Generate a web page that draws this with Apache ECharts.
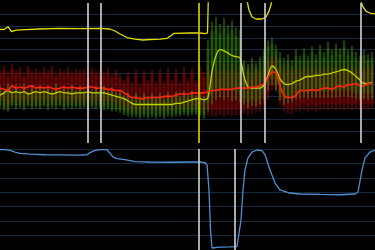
<!DOCTYPE html>
<html>
<head>
<meta charset="utf-8">
<script src="https://cdn.jsdelivr.net/npm/echarts@6/dist/echarts.min.js"></script>
<style>
html,body{margin:0;padding:0;background:#000;}
#c{width:375px;height:250px;}
</style>
</head>
<body>
<div id="c"></div>
<script>
// sample times for the banded series
const sampleT = [
  0,4,8,12,16,20,24,28,32,36,
  40,44,48,52,56,60,64,68,72,76,
  80,84,88,92,96,100,104,108,112,116,
  120,124,128,132,136,140,144,148,152,156,
  160,164,168,172,176,180,184,188,192,196,
  200,204,208,212,216,220,224,228,232,236,
  240,244,248,252,256,260,264,268,272,276,
  280,284,288,292,296,300,304,308,312,316,
  320,324,328,332,336,340,344,348,352,356,
  360,364,368,372
];
// red channel: upper, lower, mean
const redHi = [
  63,66,61,68,63,65,60,66,62,64,
  61,65,63,66,60,64,62,65,61,63,
  63,64,60,65,62,63,61,64,59,63,
  59,54,61,52,63,51,62,54,63,52,
  63,53,64,54,63,52,65,55,64,54,
  66,61,67,63,68,62,67,63,68,63,
  66,61,66,62,67,63,69,73,75,75,
  69,64,68,63,69,63,69,64,69,64,
  69,64,70,65,69,64,70,66,69,65,
  69,66,71,68
];
const redLo = [
  33,32,28,34,32,33,33,34,32,33,
  33,34,32,33,33,34,32,33,33,33,
  33,33,32,33,33,33,32,33,32,31,
  30,28,27,27,27,26,26,27,27,27,
  27,27,27,27,28,28,27,28,28,28,
  27,25,24,23,23,24,23,24,23,24,
  24,25,24,25,26,27,28,37,45,44,
  32,27,25,25,27,27,28,27,28,27,
  28,29,28,29,28,29,28,29,28,29,
  28,29,28,29
];
const redMid = [
  47,46,45,49,47,48,47,48,49,47,
  48,47,48,47,46,47,48,47,48,47,
  47,47,48,48,47,47,47,46,46,45,
  45,43,41,39,39,38,38,39,39,39,
  39,40,40,40,41,42,42,42,43,43,
  43,43,44,45,45,46,46,46,46,47,
  47,47,47,48,48,49,51,56,61,60,
  49,41,39,39,41,45,45,45,46,45,
  46,47,47,46,48,49,48,50,50,51,
  49,49,51,51
];
// green channel: upper, lower, mean
const greenHi = [
  49,45,51,45,50,45,51,44,49,45,
  50,45,49,45,51,45,49,45,50,45,
  49,45,50,45,49,45,49,45,48,44,
  45,41,44,39,43,39,43,39,43,39,
  43,39,44,40,44,40,45,41,45,41,
  44,40,88,104,108,102,107,101,105,99,
  97,71,68,73,69,74,80,88,90,84,
  78,73,76,71,80,75,81,75,83,76,
  84,78,87,80,85,81,88,80,83,78,
  75,80,76,78
];
const greenLo = [
  30,28,27,31,29,30,28,31,29,30,
  29,31,28,30,29,31,28,30,29,30,
  29,30,28,30,29,30,28,29,27,27,
  26,24,23,22,22,21,22,21,22,21,
  22,21,23,22,23,23,24,23,24,24,
  23,21,27,33,37,39,37,39,36,37,
  35,33,30,32,31,33,37,45,50,45,
  37,33,34,35,37,38,39,38,39,39,
  39,39,39,39,39,39,40,39,39,38,
  37,38,37,38
];
const greenMid = [
  41,43,45,43,44,43,44,42,43,44,
  43,44,43,42,43,44,43,43,42,43,
  43,43,44,43,43,43,43,42,41,40,
  39,38,36,34,33,33,33,33,33,33,
  33,33,33,33,34,34,35,36,37,38,
  38,37,39,61,75,80,79,77,75,74,
  73,57,48,47,47,47,50,58,66,63,
  55,51,50,51,53,54,56,57,57,58,
  58,59,59,60,61,62,63,62,60,57,
  54,51,51,52
];
// yellow trace (time, value)
const yellowT = [0,4,8,11.5,15,20,40,60,80,100,110,115,120,127,135,143,150,160,167,171,174,190,200,205,207.5,208.5,246,247.5,249,252,256,262,266,269,271.5,273,360,361.5,363,366,370,375];
const yellowV = [97.4,97.3,99.7,95.4,96.6,96.9,97.7,98.3,98.1,98.3,97.7,96,93.4,90.4,89.1,88.3,88.7,89.1,89.7,92,94,94.3,94.3,93.8,94.3,130,130,120,114,108,106.3,106.3,108,113,120,130,130,120,116.6,113,111.4,110.6];
// blue trace (time, value)
const blueT = [0,5,10,15,20,30,45,60,80,87,90,95,100,107,110,113,117,125,135,150,170,190,200,205,207,209,210.5,212,220,230,237,239,241,243,245,248,252,257,262,265,270,275,280,290,300,320,340,355,358,362,365,370,375];
const blueV = [69.6,69.5,69,67.9,67,66.4,66,65.9,65.8,66,67.5,69,69.5,69.5,67,64.5,63.3,62.7,61.3,61,60.8,61,61,60.5,59,41.6,13.9,1.4,2,2.1,2.3,3.5,20.8,41.6,55.4,63.8,67.9,69.3,68.8,66,55.4,46.4,41.6,39.5,38.8,38.5,38.3,38.8,40.2,55.4,63.8,67.9,69.3];
// event markers
const topEventX = [88, 101, 241, 265, 361];
const alarmX = [199];
const bottomEventX = [199, 235];

const chart = echarts.init(document.getElementById('c'), null, {renderer:'canvas'});

function band(fillBand, fillStripe){
  return function(params, api){
    const x = api.value(0);
    const top = api.coord([x, api.value(2)]);
    const bot = api.coord([x, api.value(1)]);
    const w = api.size([4, 0])[0];
    const h = bot[1] - top[1];
    return {type:'group', children:[
      {type:'rect', shape:{x: top[0]-w/2, y: top[1] + h*0.12, width: w, height: h*0.76}, style:{fill: fillBand}},
      {type:'rect', shape:{x: top[0]-0.6, y: top[1], width: 1.2, height: h}, style:{fill: fillStripe}}
    ]};
  };
}

const redBand = sampleT.map((t,i)=>[t, redLo[i], redHi[i]]);
const greenBand = sampleT.map((t,i)=>[t, greenLo[i], greenHi[i]]);
const pairs = (a,b)=>a.map((t,i)=>[t,b[i]]);

const gridLine = {show:true, lineStyle:{color:'#16293c', width:1}};

chart.setOption({
  backgroundColor:'#000',
  animation:false,
  grid:[
    {left:0, right:0, top:3, height:140},
    {left:0, right:0, top:149, height:101}
  ],
  xAxis:[
    {type:'value', gridIndex:0, min:0, max:375, show:false},
    {type:'value', gridIndex:1, min:0, max:375, show:false}
  ],
  yAxis:[
    {type:'value', gridIndex:0, min:0, max:120, interval:10,
      axisLine:{show:false}, axisTick:{show:false}, axisLabel:{show:false},
      splitLine:Object.assign({showMinLine:false, showMaxLine:false}, gridLine)},
    {type:'value', gridIndex:1, min:0, max:70, interval:10,
      axisLine:{show:false}, axisTick:{show:false}, axisLabel:{show:false},
      splitLine:Object.assign({showMinLine:false, showMaxLine:true}, gridLine)}
  ],
  series:[
    {type:'custom', xAxisIndex:0, yAxisIndex:0, data: redBand, clip:true,
      renderItem: band('rgba(100,0,0,0.55)', 'rgba(175,0,0,0.75)'), silent:true},
    {type:'custom', xAxisIndex:0, yAxisIndex:0, data: greenBand, clip:true,
      renderItem: band('rgba(35,100,0,0.32)', 'rgba(85,185,5,0.6)'), silent:true},
    {type:'line', xAxisIndex:0, yAxisIndex:0, data: pairs(sampleT, greenMid), showSymbol:false,
      smooth:0.3, lineStyle:{color:'#bcd400', width:1.3}, silent:true},
    {type:'line', xAxisIndex:0, yAxisIndex:0, data: pairs(sampleT, redMid), showSymbol:false,
      smooth:0.3, lineStyle:{color:'#ff2414', width:1.6}, silent:true},
    {type:'line', xAxisIndex:0, yAxisIndex:0, data: pairs(yellowT, yellowV), showSymbol:false,
      clip:true, lineStyle:{color:'#e6dc00', width:1.3}, silent:true,
      markLine:{silent:true, symbol:'none', animation:false, label:{show:false},
        data: topEventX.map(x=>({xAxis:x, lineStyle:{color:'#d4d4d4', width:1.6, type:'solid'}}))
          .concat(alarmX.map(x=>({xAxis:x, lineStyle:{color:'#c8c000', width:1.8, type:'solid'}})))}},
    {type:'line', xAxisIndex:1, yAxisIndex:1, data: pairs(blueT, blueV), showSymbol:false,
      clip:true, lineStyle:{color:'#4f8fd2', width:1.3}, silent:true,
      markLine:{silent:true, symbol:'none', animation:false, label:{show:false},
        data: bottomEventX.map(x=>({xAxis:x, lineStyle:{color:'#d4d4d4', width:1.6, type:'solid'}}))}}
  ]
});
</script>
</body>
</html>
